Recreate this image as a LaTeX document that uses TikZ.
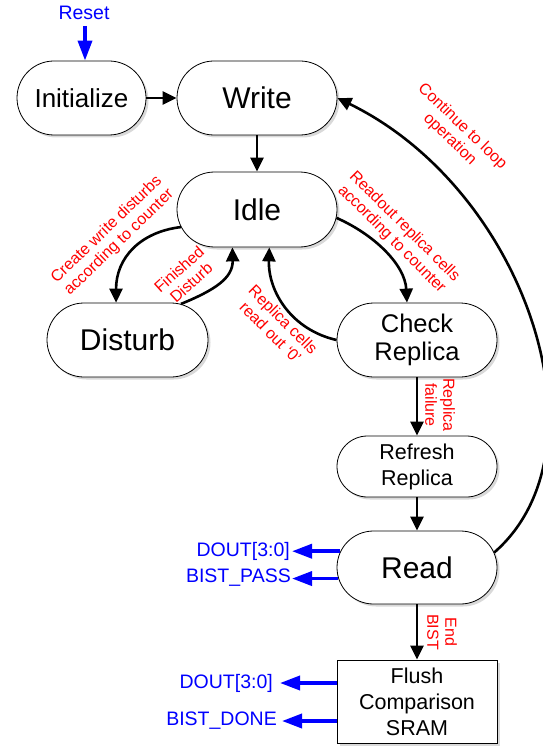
\documentclass[tikz,border=0pt]{standalone}
\usepackage{fontspec}
\setmainfont{Liberation Sans}
\usetikzlibrary{arrows.meta,shapes.misc,shadows,calc}
\begin{document}
\begin{tikzpicture}[x=1pt,y=-1pt,
  shd/.style={drop shadow={shadow xshift=2.5pt,shadow yshift=-2.5pt,opacity=0.3}},
  state/.style={rounded rectangle, draw=black, line width=0.8pt, fill=white,
    inner sep=0pt, align=center, shd},
  bigtext/.style={font=\fontsize{30}{34}\selectfont},
  midtext/.style={font=\fontsize{25.5}{28.5}\selectfont},
  smalltext/.style={font=\fontsize{21.5}{26}\selectfont},
  cond/.style={text=red, align=center, inner sep=0pt, font=\fontsize{16}{18}\selectfont},
  sig/.style={text=blue, inner sep=0pt, font=\fontsize{19.5}{22}\selectfont},
  flow/.style={draw=black, line width=2.6pt, -{Triangle[length=14pt,width=13pt]}},
  sigarrow/.style={draw=blue, line width=3.6pt, -{Triangle[length=20pt,width=14pt]}}
]
\useasboundingbox (0,0) rectangle (542,746);

% states
\node[state, font=\fontsize{26}{30}\selectfont, minimum width=129pt, minimum height=74pt] (init) at (81.5,98) {Initialize};
\node[state, bigtext, minimum width=160pt, minimum height=74pt] (write) at (257,98) {Write};
\node[state, bigtext, minimum width=160pt, minimum height=75pt] (idle) at (257,209.5) {Idle};
\node[state, bigtext, minimum width=161pt, minimum height=74pt] (disturb) at (127.5,340) {Disturb};
\node[state, midtext, minimum width=160pt, minimum height=74pt] (check) at (417,340) {Check\\Replica};
\node[state, smalltext, minimum width=160pt, minimum height=61pt] (refresh) at (417,466.5) {Refresh\\Replica};
\node[state, bigtext, minimum width=160pt, minimum height=73pt] (read) at (417,567.5) {Read};
\node[rectangle, draw=black, line width=0.8pt, fill=white, shd, inner sep=0pt, align=center,
  smalltext, minimum width=160pt, minimum height=83pt] (flush) at (417,701.5) {Flush\\Comparison\\SRAM};

% reset
\node[sig] (reset) at (84,13) {Reset};
\coordinate (rs) at (85,26);
\draw[sigarrow] (rs) -- (rs |- init.north);

% straight transitions
\draw[flow] (init.east) -- (write.west);
\draw[flow] (write.south) -- (idle.north);
\draw[flow] (check.south) -- (refresh.north);
\draw[flow] (refresh.south) -- (read.north);
\draw[flow] (read.south) -- (flush.north);

% curved transitions
\draw[flow] (idle.193) .. controls (140,232) and (116,258) .. (disturb.107);
\draw[flow] (disturb.34) .. controls (215,290) and (233,278) .. (idle.237);
\draw[flow] (idle.-6) .. controls (375,235) and (405,265) .. (check.105);
\draw[flow] (check.180) .. controls (292,330) and (268,292) .. (idle.-72);
\draw[flow] (read.11) .. controls (612,450) and (526,190) .. (write.east);

% condition labels
\node[cond, rotate=44] (c1) at (113,236) {Create write disturbs\\according to counter};
\node[cond, rotate=42] (c2) at (185,276) {Finished\\Disturb};
\node[cond, rotate=-45] (c3) at (398,233) {Readout replica cells\\according to counter};
\node[cond, rotate=-45] (c4) at (277,326) {Replica cells\\read out ‘0’};
\node[cond, rotate=-44] (c5) at (456,133) {Continue to loop\\operation};
\node[cond, rotate=-90] (c6) at (440,405) {Replica\\failure};
\node[cond, rotate=-90] (c7) at (442,632) {End\\BIST};

% output signals
\node[sig, anchor=east] (dout1) at (290,551) {DOUT[3:0]};
\node[sig, anchor=east] (pass) at (291,578) {BIST\_PASS};
\node[sig, anchor=east] (dout2) at (273,683) {DOUT[3:0]};
\node[sig, anchor=east] (done) at (277,721) {BIST\_DONE};
\draw[sigarrow] (read.168) -- ($(read.168 -| dout1.east)+(2,0)$);
\draw[sigarrow] (read.188) -- ($(read.188 -| pass.east)+(1,0)$);
\draw[sigarrow] (flush.west |- dout2) -- ($(dout2.east)+(7,0)$);
\draw[sigarrow] (flush.west |- done) -- ($(done.east)+(5,0)$);
\end{tikzpicture}
\end{document}
